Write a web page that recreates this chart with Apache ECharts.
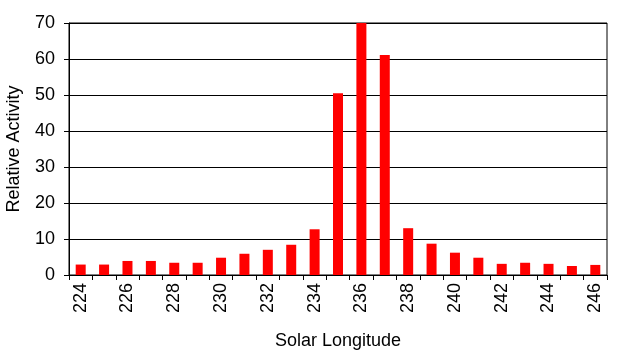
<!DOCTYPE html>
<html><head><meta charset="utf-8">
<script src="https://cdn.jsdelivr.net/npm/echarts@6/dist/echarts.min.js"></script>
<style>html,body{margin:0;padding:0;background:#fff}#c{width:629px;height:355px}</style>
</head><body><div id="c"></div>
<script>
var categories = ['224','225','226','227','228','229','230','231','232','233','234','235','236','237','238','239','240','241','242','243','244','245','246'];
var activity = [2.9,2.9,3.9,3.9,3.4,3.4,4.8,5.9,7.0,8.4,12.7,50.5,70,61.1,13.0,8.7,6.2,4.8,3.1,3.4,3.1,2.5,2.8];
var yTicks = {min:0, max:70, interval:10};
var font = 'Liberation Sans, Arial, sans-serif';
var chart = echarts.init(document.getElementById('c'));
chart.setOption({
  animation:false,
  grid:{left:69, right:22, top:23, bottom:80, containLabel:false, outerBoundsMode:'none', show:true, borderColor:'#000', borderWidth:1},
  xAxis:{type:'category', data:categories, name:'Solar Longitude', nameLocation:'middle', nameGap:57,
    nameTextStyle:{color:'#000', fontSize:18, fontFamily:font},
    axisLine:{lineStyle:{color:'#000', width:1}},
    axisTick:{show:true, length:5, alignWithLabel:false, interval:0, lineStyle:{color:'#000'}},
    axisLabel:{rotate:90, interval:1, color:'#000', fontSize:18, fontFamily:font, margin:8}},
  yAxis:{type:'value', min:yTicks.min, max:yTicks.max, interval:yTicks.interval, name:'Relative Activity', nameLocation:'middle', nameGap:46,
    nameTextStyle:{color:'#000', fontSize:18, fontFamily:font},
    axisLine:{show:true, lineStyle:{color:'#000'}},
    axisTick:{show:true, length:5, lineStyle:{color:'#000'}},
    axisLabel:{color:'#000', fontSize:18, fontFamily:font, margin:14},
    splitLine:{lineStyle:{color:'#000', width:1}}},
  series:[{type:'bar', data:activity, barWidth:10, itemStyle:{color:'#ff0000'}}]
});
</script></body></html>
